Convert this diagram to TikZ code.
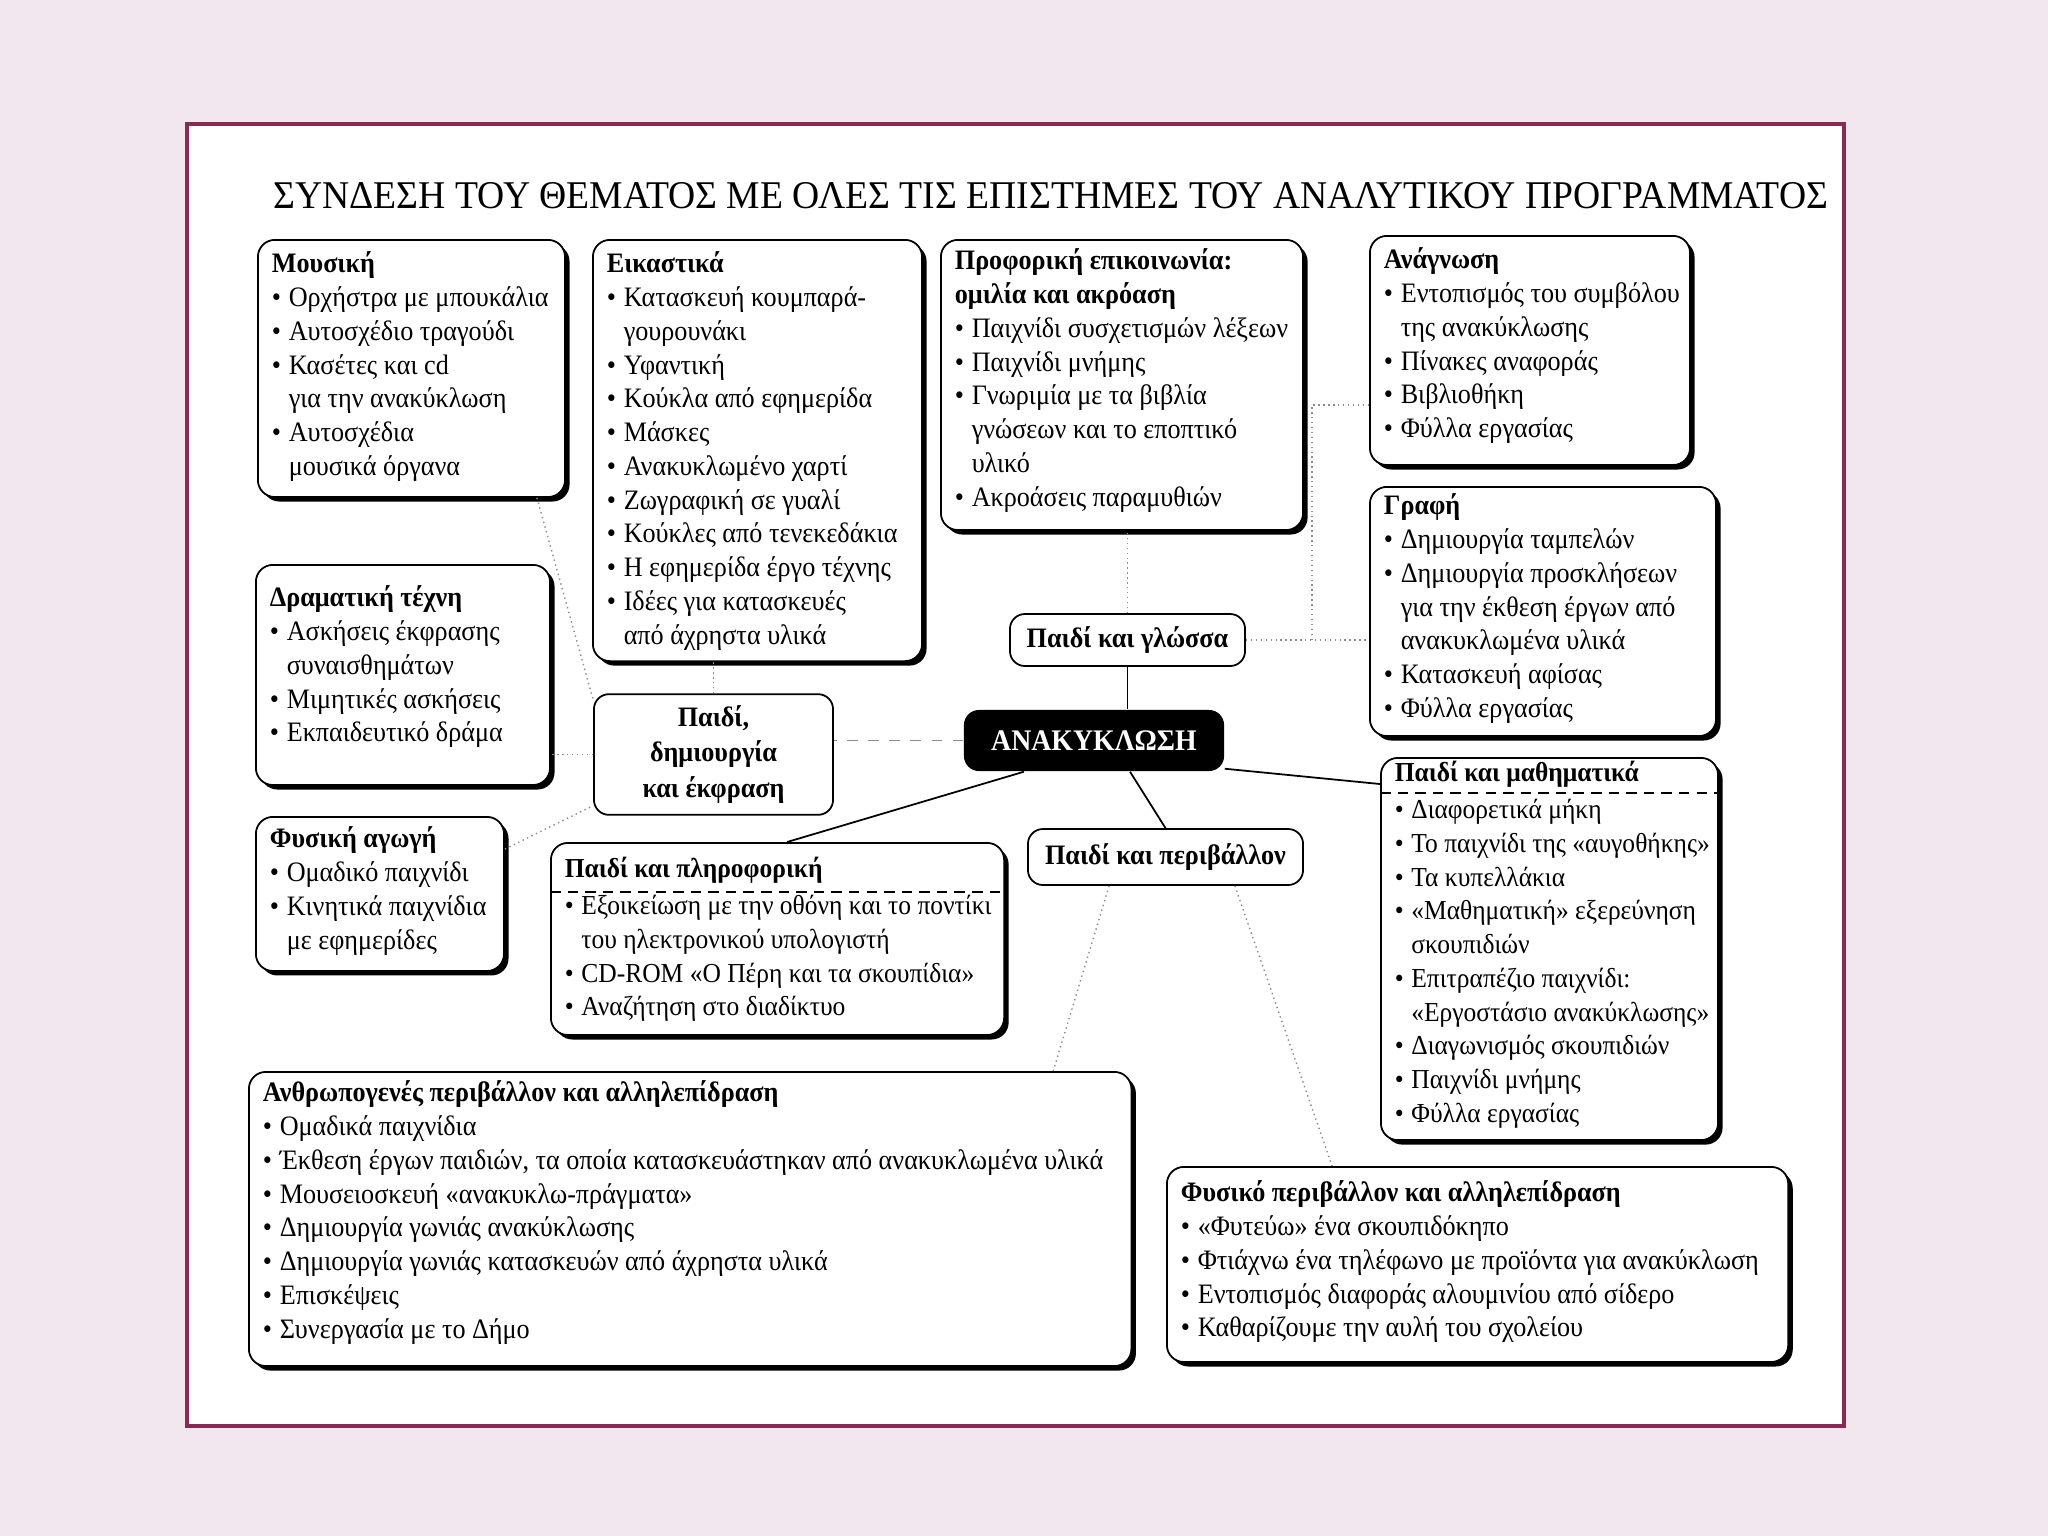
\documentclass[tikz,border=0pt]{standalone}
\usepackage{fontspec}
\setmainfont{Liberation Serif}[FakeStretch=0.93]
\usepackage{graphicx}
\usepackage{tikz}
\usetikzlibrary{shadows}
\definecolor{pagebg}{RGB}{242,231,238}
\definecolor{framec}{RGB}{138,42,84}
\newcommand\bodyfont{\fontsize{8}{9.6}\selectfont}
\newcommand\itm{\makebox[0.6em][l]{\textbullet}}
\newcommand\nxt{\hspace*{0.6em}}
% box content: [first baseline]{width}{height}{lines}
\newcommand\boxtext[4][0.33cm]{\parbox[t][#3][t]{#2}{\vspace*{\dimexpr#1-\ht\strutbox\relax}\begin{tabular}{@{}l@{}}#4\end{tabular}}}

\begin{document}
\begin{tikzpicture}[x=0.01cm, y=-0.01cm,
  topic/.style={draw, line width=0.5pt, rounded corners=0.17cm, fill=white, anchor=north west, inner xsep=0.14cm, inner ysep=0pt, font=\bodyfont,
    drop shadow={shadow xshift=0.045cm, shadow yshift=-0.045cm, opacity=1, fill=black}},
  hub/.style={draw, line width=0.5pt, rounded corners=0.15cm, fill=white, align=center, font=\fontsize{8}{10}\selectfont\bfseries},
  core/.style={fill=black, rounded corners=0.15cm, text=white, font=\fontsize{8.5}{10}\selectfont\bfseries},
  link/.style={line width=0.5pt},
  faint/.style={densely dotted, line width=0.4pt, black!45}
]
  \fill[pagebg] (0,0) rectangle (2048,1536);
  \draw[framec, line width=1.2pt, fill=white] (187,124) rectangle (1844,1426);
  \useasboundingbox (0,0) rectangle (2048,1536);

  \node (title) at (1051,196) {\resizebox{15.54cm}{0.26cm}{ΣΥΝΔΕΣΗ ΤΟΥ ΘΕΜΑΤΟΣ ΜΕ ΟΛΕΣ ΤΙΣ ΕΠΙΣΤΗΜΕΣ ΤΟΥ ΑΝΑΛΥΤΙΚΟΥ ΠΡΟΓΡΑΜΜΑΤΟΣ}};

  % subject boxes
  \node[topic] (mousiki) at (257,239) {\boxtext{2.79cm}{2.57cm}{\textbf{Μουσική}\\
    \itm Ορχήστρα με μπουκάλια\\ \itm Αυτοσχέδιο τραγούδι\\ \itm Κασέτες και cd\\
    \nxt για την ανακύκλωση\\ \itm Αυτοσχέδια\\ \nxt μουσικά όργανα}};
  \node[topic] (eikastika) at (592,239) {\boxtext{3.01cm}{4.21cm}{\textbf{Εικαστικά}\\
    \itm Κατασκευή κουμπαρά-\\ \nxt γουρουνάκι\\ \itm Υφαντική\\ \itm Κούκλα από εφημερίδα\\
    \itm Μάσκες\\ \itm Ανακυκλωμένο χαρτί\\ \itm Ζωγραφική σε γυαλί\\ \itm Κούκλες από τενεκεδάκια\\
    \itm Η εφημερίδα έργο τέχνης\\ \itm Ιδέες για κατασκευές\\ \nxt από άχρηστα υλικά}};
  \node[topic] (proforiki) at (940,239) {\boxtext[0.30cm]{3.34cm}{2.90cm}{\textbf{Προφορική επικοινωνία:}\\
    \textbf{ομιλία και ακρόαση}\\ \itm Παιχνίδι συσχετισμών λέξεων\\ \itm Παιχνίδι μνήμης\\
    \itm Γνωριμία με τα βιβλία\\ \nxt γνώσεων και το εποπτικό\\ \nxt υλικό\\ \itm Ακροάσεις παραμυθιών}};
  \node[topic] (anagnosi) at (1369,235) {\boxtext{2.92cm}{2.29cm}{\textbf{Ανάγνωση}\\
    \itm Εντοπισμός του συμβόλου\\ \nxt της ανακύκλωσης\\ \itm Πίνακες αναφοράς\\
    \itm Βιβλιοθήκη\\ \itm Φύλλα εργασίας}};
  \node[topic] (grafi) at (1369,486) {\boxtext[0.28cm]{3.18cm}{2.49cm}{\textbf{Γραφή}\\
    \itm Δημιουργία ταμπελών\\ \itm Δημιουργία προσκλήσεων\\ \nxt για την έκθεση έργων από\\
    \nxt ανακυκλωμένα υλικά\\ \itm Κατασκευή αφίσας\\ \itm Φύλλα εργασίας}};
  \node[topic] (dramatiki) at (255,564) {\boxtext[0.42cm]{2.66cm}{2.20cm}{\textbf{Δραματική τέχνη}\\
    \itm Ασκήσεις έκφρασης\\ \nxt συναισθημάτων\\ \itm Μιμητικές ασκήσεις\\ \itm Εκπαιδευτικό δράμα}};
  \node[topic] (agogi) at (255,816) {\boxtext[0.31cm]{2.20cm}{1.54cm}{\textbf{Φυσική αγωγή}\\
    \itm Ομαδικό παιχνίδι\\ \itm Κινητικά παιχνίδια\\ \nxt με εφημερίδες}};
  \node[topic, font=\fontsize{7.8}{9.6}\selectfont] (pliroforiki) at (550,842) {\boxtext[0.35cm]{4.25cm}{1.92cm}{\textbf{Παιδί και πληροφορική}\\[0.03cm]
    \itm Εξοικείωση με την οθόνη και το ποντίκι\\ \nxt του ηλεκτρονικού υπολογιστή\\
    \itm CD-ROM «Ο Πέρη και τα σκουπίδια»\\ \itm Αναζήτηση στο διαδίκτυο}};
  \node[topic, font=\fontsize{7.8}{9.6}\selectfont] (mathimatika) at (1380,757) {\boxtext[0.24cm]{3.09cm}{3.82cm}{\textbf{Παιδί και μαθηματικά}\\[0.03cm]
    \itm Διαφορετικά μήκη\\ \itm Το παιχνίδι της «αυγοθήκης»\\ \itm Τα κυπελλάκια\\
    \itm «Μαθηματική» εξερεύνηση\\ \nxt σκουπιδιών\\ \itm Επιτραπέζιο παιχνίδι:\\
    \nxt«Εργοστάσιο ανακύκλωσης»\\ \itm Διαγωνισμός σκουπιδιών\\ \itm Παιχνίδι μνήμης\\ \itm Φύλλα εργασίας}};
  \node[topic] (anthropo) at (248,1071) {\boxtext[0.30cm]{8.54cm}{2.94cm}{\textbf{Ανθρωπογενές περιβάλλον και αλληλεπίδραση}\\
    \itm Ομαδικά παιχνίδια\\ \itm Έκθεση έργων παιδιών, τα οποία κατασκευάστηκαν από ανακυκλωμένα υλικά\\
    \itm Μουσειοσκευή «ανακυκλω-πράγματα»\\ \itm Δημιουργία γωνιάς ανακύκλωσης\\
    \itm Δημιουργία γωνιάς κατασκευών από άχρηστα υλικά\\ \itm Επισκέψεις\\ \itm Συνεργασία με το Δήμο}};
  \node[topic] (fysiko) at (1166,1166) {\boxtext[0.35cm]{5.93cm}{1.95cm}{\textbf{Φυσικό περιβάλλον και αλληλεπίδραση}\\
    \itm «Φυτεύω» ένα σκουπιδόκηπο\\ \itm Φτιάχνω ένα τηλέφωνο με προϊόντα για ανακύκλωση\\
    \itm Εντοπισμός διαφοράς αλουμινίου από σίδερο\\ \itm Καθαρίζουμε την αυλή του σχολείου}};

  \draw[densely dashed, line width=0.4pt] ([yshift=-0.50cm]pliroforiki.north west) -- ([yshift=-0.50cm]pliroforiki.north east);
  \draw[densely dashed, line width=0.4pt] ([yshift=-0.36cm]mathimatika.north west) -- ([yshift=-0.36cm]mathimatika.north east);

  % centre
  \node[core, minimum width=2.60cm, minimum height=0.61cm] (anakyklosi) at (1094,740.5) {ΑΝΑΚΥΚΛΩΣΗ};
  \node[hub, minimum width=2.39cm, minimum height=1.11cm] (dimiourgia) at (713.5,754.5) {Παιδί,\\δημιουργία\\και έκφραση};
  \node[hub, minimum width=2.35cm, minimum height=0.52cm] (glossa) at (1127.5,640) {Παιδί και γλώσσα};
  \node[hub, minimum width=2.75cm, minimum height=0.56cm] (perivallon) at (1165.5,857) {Παιδί και περιβάλλον};

  \draw[link] (glossa.south) -- (glossa.south |- anakyklosi.north);
  \draw[link] (anakyklosi.204) -- ([xshift=2.37cm]pliroforiki.north west);
  \draw[link] ([xshift=0.36cm]anakyklosi.south) -- (perivallon.north);
  \draw[link] ([yshift=0.03cm]anakyklosi.south east) -- ([yshift=-0.27cm]mathimatika.north west);
  \draw[faint, dashed] (anakyklosi.west) -- (anakyklosi.west -| dimiourgia.east);

  % faint links to the subject boxes
  \coordinate (jn) at (1312,640);
  \draw[faint] (glossa.north) -- (glossa.north |- proforiki.south);
  \draw[faint] (glossa.east) -- (glossa.east -| grafi.west);
  \draw[faint] (jn) |- ([yshift=-1.70cm]anagnosi.north west);
  \draw[faint] (dimiourgia.north) -- (dimiourgia.north |- eikastika.south);
  \draw[faint] (dimiourgia.west) -- (dimiourgia.west -| dramatiki.east);
  \draw[faint] ([xshift=-0.29cm]mousiki.south east) -- ([yshift=-0.06cm]dimiourgia.north west);
  \draw[faint] ([yshift=-0.33cm]agogi.north east) -- ([yshift=0.10cm]dimiourgia.south west);
  \draw[faint] ([xshift=0.82cm]perivallon.south west) -- ([xshift=-0.79cm]anthropo.north east);
  \draw[faint] ([xshift=-0.69cm]perivallon.south east) -- ([xshift=1.66cm]fysiko.north west);
\end{tikzpicture}
\end{document}
